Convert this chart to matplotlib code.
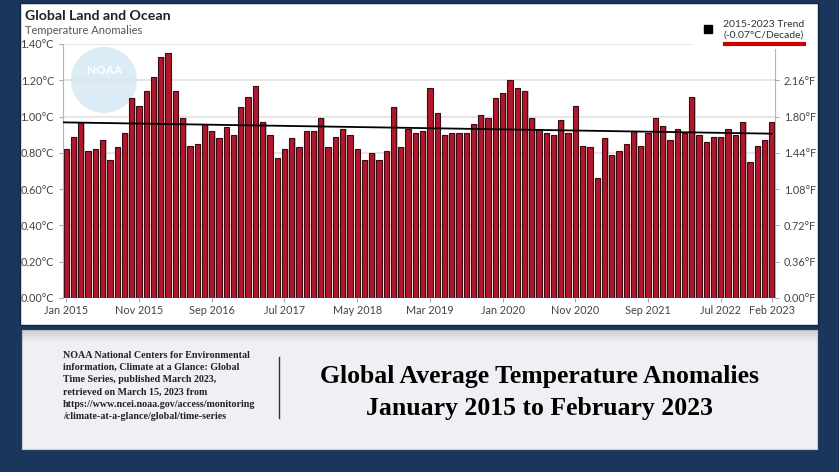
import numpy as np
import matplotlib
matplotlib.use("Agg")
import matplotlib.pyplot as plt
from matplotlib.patches import Rectangle, Ellipse
from matplotlib.lines import Line2D

# monthly anomalies (deg C), Jan 2015 .. Feb 2023
anomalies = [
    0.82, 0.89, 0.97, 0.81, 0.82, 0.87, 0.76, 0.83, 0.91, 1.10, 1.06, 1.14,  # 2015
    1.22, 1.33, 1.35, 1.14, 0.99, 0.84, 0.85, 0.96, 0.92, 0.88, 0.94, 0.90,  # 2016
    1.05, 1.11, 1.17, 0.97, 0.90, 0.77, 0.82, 0.88, 0.83, 0.92, 0.92, 0.99,  # 2017
    0.83, 0.89, 0.93, 0.90, 0.82, 0.76, 0.80, 0.76, 0.81, 1.05, 0.83, 0.93,  # 2018
    0.91, 0.92, 1.16, 1.02, 0.90, 0.91, 0.91, 0.91, 0.96, 1.01, 0.99, 1.10,  # 2019
    1.13, 1.20, 1.16, 1.14, 0.99, 0.93, 0.91, 0.90, 0.98, 0.91, 1.06, 0.84,  # 2020
    0.83, 0.66, 0.88, 0.79, 0.81, 0.85, 0.92, 0.84, 0.91, 0.99, 0.95, 0.87,  # 2021
    0.93, 0.91, 1.11, 0.90, 0.86, 0.89, 0.89, 0.93, 0.90, 0.97, 0.75, 0.84,  # 2022
    0.87, 0.97,                                                              # 2023
]
tick_months = [0, 10, 20, 30, 40, 50, 60, 70, 80, 90, 97]
tick_labels = ["Jan 2015", "Nov 2015", "Sep 2016", "Jul 2017", "May 2018", "Mar 2019",
               "Jan 2020", "Nov 2020", "Sep 2021", "Jul 2022", "Feb 2023"]
c_ticks = [0.0, 0.2, 0.4, 0.6, 0.8, 1.0, 1.2, 1.4]
f_ticks_c = [0.0, 0.2, 0.4, 0.6, 0.8, 1.0, 1.2]

trend_label = "2015-2023 Trend\n(-0.07°C/Decade)"
source_text = ("NOAA National Centers for Environmental\n"
               "information, Climate at a Glance: Global\n"
               "Time Series, published March 2023,\n"
               "retrieved on March 15, 2023 from\n"
               "https://www.ncei.noaa.gov/access/monitoring\n"
               "/climate-at-a-glance/global/time-series")

W, H = 839, 472
def fx(x): return x / W
def fy(y): return 1 - y / H

plt.rcParams["font.family"] = ["Lato", "DejaVu Sans"]

fig = plt.figure(figsize=(8.39, 4.72), dpi=100, facecolor="#1b365d")

# white chart card and grey caption card
fig.add_artist(Rectangle((fx(20), fy(325)), fx(798), 322 / H, transform=fig.transFigure,
                         facecolor="white", edgecolor="#10243f", lw=1, zorder=0))
fig.add_artist(Rectangle((fx(22), fy(449)), fx(795), 119 / H, transform=fig.transFigure,
                         facecolor="#eff0f3", edgecolor="#c8ccd4", lw=0.8, zorder=0))
for k in range(8):
    fig.add_artist(Rectangle((fx(22), fy(331 + k * 1.5)), fx(795), 1.5 / H,
                             transform=fig.transFigure, facecolor="#7a7f88",
                             alpha=0.28 * (1 - k / 8), lw=0, zorder=0.1))

ax = fig.add_axes([fx(63), fy(298), fx(712), 254 / H])
ax.set_facecolor("none")

# NOAA watermark
ax.add_patch(Ellipse((fx(104), fy(80)), fx(66), 66 / H, transform=fig.transFigure,
                     facecolor="#dcecf7", edgecolor="none", zorder=0.5))
ax.text(fx(104), fy(71), "NOAA", transform=fig.transFigure, ha="center", va="center",
        color="white", fontsize=8.5, fontweight="bold", zorder=0.6)

months = np.arange(len(anomalies))
ax.bar(months + 0.2, anomalies, width=0.72, color="#c4c4c4", edgecolor="none", zorder=1)
ax.bar(months, anomalies, width=0.72, color="#b3172c", edgecolor="#3b0a12",
       linewidth=0.8, zorder=2)

coef = np.polyfit(months, anomalies, 1)
xs = np.array([-0.45, months[-1]])
ax.plot(xs, np.polyval(coef, xs), color="black", lw=1.3, zorder=4)

ax.set_xlim(-0.45, len(anomalies) - 0.55)
ax.set_ylim(0, 1.40)
ax.set_yticks(c_ticks)
ax.set_yticklabels([f"{v:.2f}°C" for v in c_ticks])
ax.set_xticks(tick_months)
ax.set_xticklabels(tick_labels)
ax.yaxis.grid(True, color="#e2e2e2", lw=1.2)
ax.set_axisbelow(True)
for s in ["top", "right", "bottom"]:
    ax.spines[s].set_visible(False)
ax.spines["left"].set_color("#b5b5b5")
ax.tick_params(axis="both", colors="#aaaaaa", labelcolor="#444444", labelsize=7.8, length=3)
ax.tick_params(axis="x", pad=2)

ax2 = ax.twinx()
ax2.set_ylim(ax.get_ylim())
ax2.set_yticks(f_ticks_c)
ax2.set_yticklabels([f"{v * 1.8:.2f}°F" for v in f_ticks_c])
for s in ["top", "left", "bottom"]:
    ax2.spines[s].set_visible(False)
ax2.spines["right"].set_color("#b5b5b5")
ax2.spines["right"].set_bounds(0, 1.37)
ax2.tick_params(axis="y", colors="#aaaaaa", labelcolor="#444444", labelsize=7.8, length=3)

# legend area (covers the top gridline like the original)
fig.add_artist(Rectangle((fx(693), fy(48)), fx(120), 40 / H, transform=fig.transFigure,
                         facecolor="white", edgecolor="none", zorder=5))
fig.add_artist(Line2D([fx(708)], [fy(29)], marker="s", markersize=6, color="black",
                      linestyle="none", transform=fig.transFigure, zorder=6))
fig.text(fx(723), fy(30), trend_label, ha="left", va="center", fontsize=7.5,
         color="#333333", linespacing=1.3, zorder=6)
fig.add_artist(Line2D([fx(725), fx(804)], [fy(44), fy(44)], color="#cc0000", lw=3,
                      transform=fig.transFigure, zorder=6))

fig.text(fx(25), fy(16), "Global Land and Ocean", ha="left", va="center",
         fontsize=10.2, fontweight="bold", color="#222222")
fig.text(fx(25), fy(31), "Temperature Anomalies", ha="left", va="center",
         fontsize=8, color="#555555")

# caption card
fig.text(fx(63), fy(351), source_text, ha="left", va="top", family="Liberation Serif",
         fontweight="bold", fontsize=7.2, color="#222222", linespacing=1.45)
fig.add_artist(Line2D([fx(279), fx(279)], [fy(357), fy(418)], color="#333333", lw=1,
                      transform=fig.transFigure))
fig.text(fx(540), fy(376), "Global Average Temperature Anomalies", ha="center",
         va="center", family="Liberation Serif", fontweight="bold", fontsize=18.5, color="black")
fig.text(fx(540), fy(409), "January 2015 to February 2023", ha="center",
         va="center", family="Liberation Serif", fontweight="bold", fontsize=18.5, color="black")

fig.savefig("out.png", dpi=100, facecolor=fig.get_facecolor())
